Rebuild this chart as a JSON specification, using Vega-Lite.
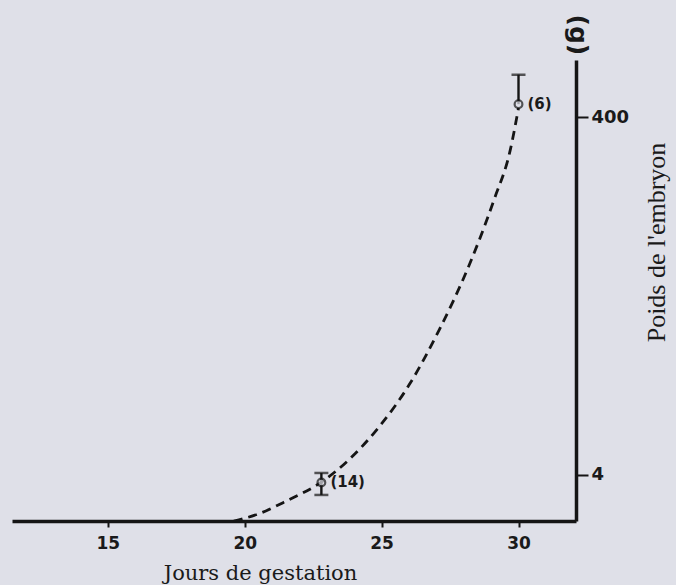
{
  "$schema": "https://vega.github.io/schema/vega-lite/v6.json",
  "autosize": "none",
  "width": 564,
  "height": 461,
  "padding": {"left": 12, "top": 60, "right": 100, "bottom": 64},
  "background": "#dfe0e8",
  "config": {
    "view": {"stroke": null},
    "axis": {"grid": false}
  },
  "title": {
    "text": "(g)",
    "anchor": "end",
    "frame": "group",
    "angle": 90,
    "font": "DejaVu Sans",
    "fontSize": 25,
    "fontWeight": "bold",
    "color": "#1a1a1a",
    "offset": 0,
    "dx": 36,
    "dy": -14
  },
  "datasets": {
    "curve": [
      {"jour": 19.6, "poids": 2.21},
      {"jour": 20.5, "poids": 2.42},
      {"jour": 21.6, "poids": 2.9},
      {"jour": 22.7, "poids": 3.56},
      {"jour": 23.8, "poids": 4.85},
      {"jour": 24.9, "poids": 7.4},
      {"jour": 26.0, "poids": 12.7},
      {"jour": 27.1, "poids": 25.8},
      {"jour": 28.2, "poids": 59.6},
      {"jour": 29.1, "poids": 137},
      {"jour": 29.7, "poids": 262},
      {"jour": 30.0, "poids": 449}
    ],
    "points": [
      {"jour": 22.8, "poids": 3.63, "bas": 3.09, "haut": 4.1, "n": "(14)"},
      {"jour": 30.0, "poids": 472, "bas": 472, "haut": 690, "n": "(6)"}
    ]
  },
  "layer": [
    {
      "data": {"name": "curve"},
      "mark": {"type": "line", "interpolate": "monotone", "strokeDash": [9, 6], "strokeWidth": 2.8, "color": "#151515"},
      "encoding": {
        "x": {
          "field": "jour", "type": "quantitative",
          "scale": {"domain": [11.5, 32.1], "nice": false, "zero": false},
          "axis": {
            "values": [15, 20, 25, 30],
            "title": "Jours de gestation",
            "titleFont": "DejaVu Serif",
            "titleFontSize": 21,
            "titleFontWeight": "normal",
            "titleColor": "#1a1a1a",
            "titleX": 248,
            "titleY": 58,
            "titleBaseline": "alphabetic",
            "titleAnchor": null,
            "titleAlign": "center",
            "domainColor": "#151515",
            "domainWidth": 3.5,
            "tickColor": "#151515",
            "tickWidth": 2,
            "tickSize": 6,
            "labelFont": "DejaVu Sans",
            "labelFontSize": 17,
            "labelFontWeight": "bold",
            "labelColor": "#1a1a1a",
            "labelPadding": 8
          }
        },
        "y": {
          "field": "poids", "type": "quantitative",
          "scale": {"type": "log", "domain": [2.21, 833], "nice": false, "zero": false},
          "axis": {
            "orient": "right",
            "values": [4, 400],
            "format": "d",
            "title": "Poids de l'embryon",
            "titleFont": "Liberation Serif",
            "titleFontSize": 26,
            "titleFontWeight": "normal",
            "titleColor": "#1a1a1a",
            "titleAngle": 270,
            "titleX": 80,
            "titleY": 182,
            "titleAlign": "center",
            "titleBaseline": "middle",
            "domainColor": "#151515",
            "domainWidth": 3.5,
            "tickColor": "#151515",
            "tickWidth": 2,
            "tickSize": 12,
            "labelFont": "DejaVu Sans",
            "labelFontSize": 18,
            "labelFontWeight": "bold",
            "labelColor": "#1a1a1a",
            "labelPadding": 3
          }
        }
      }
    },
    {
      "data": {"name": "points"},
      "mark": {"type": "rule", "strokeWidth": 2.4, "color": "#151515"},
      "encoding": {
        "x": {"field": "jour", "type": "quantitative"},
        "y": {"field": "bas", "type": "quantitative"},
        "y2": {"field": "haut"}
      }
    },
    {
      "data": {"name": "points"},
      "mark": {"type": "tick", "orient": "horizontal", "size": 14, "thickness": 2.5, "color": "#151515"},
      "encoding": {
        "x": {"field": "jour", "type": "quantitative"},
        "y": {"field": "haut", "type": "quantitative"}
      }
    },
    {
      "data": {"name": "points"},
      "transform": [{"filter": "datum.n == '(14)'"}],
      "mark": {"type": "tick", "orient": "horizontal", "size": 14, "thickness": 2.5, "color": "#151515"},
      "encoding": {
        "x": {"field": "jour", "type": "quantitative"},
        "y": {"field": "bas", "type": "quantitative"}
      }
    },
    {
      "data": {"name": "points"},
      "mark": {"type": "point", "shape": "circle", "size": 60, "filled": true, "fill": "#dfe0e8", "stroke": "#151515", "strokeWidth": 2.2},
      "encoding": {
        "x": {"field": "jour", "type": "quantitative"},
        "y": {"field": "poids", "type": "quantitative"}
      }
    },
    {
      "data": {"name": "points"},
      "mark": {"type": "text", "align": "left", "baseline": "middle", "dx": 9, "font": "DejaVu Sans", "fontSize": 15, "fontWeight": "bold", "color": "#1a1a1a"},
      "encoding": {
        "x": {"field": "jour", "type": "quantitative"},
        "y": {"field": "poids", "type": "quantitative"},
        "text": {"field": "n"}
      }
    }
  ]
}
